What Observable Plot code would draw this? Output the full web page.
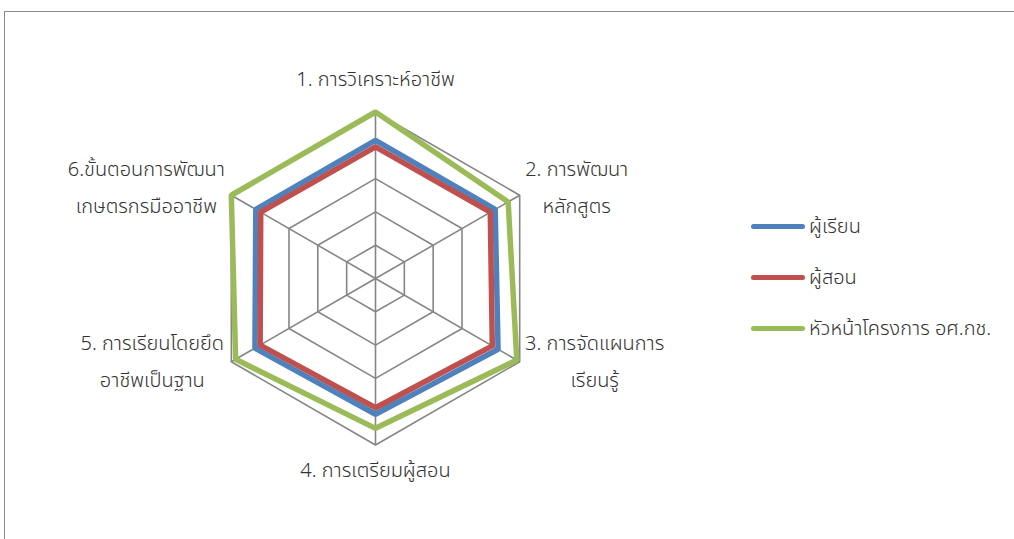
<!DOCTYPE html>
<html>
<head>
<meta charset="utf-8">
<script src="https://cdn.jsdelivr.net/npm/d3@7"></script>
<script src="https://cdn.jsdelivr.net/npm/@observablehq/plot@0.6"></script>
<style>
  html, body { margin: 0; padding: 0; background: #fff; }
  #wrap { position: relative; width: 1014px; height: 539px; overflow: hidden; background: #fff;
          font-family: "Noto Sans Thai", "Leelawadee UI", Tahoma, "DejaVu Sans", sans-serif; }
  #frame { position: absolute; left: 4px; top: 11px; width: 1200px; height: 700px;
           border: 1.5px solid #8a8a8a; box-sizing: border-box; }
  #chart { position: absolute; left: 0; top: 0; }
  #legend { position: absolute; left: 751px; top: 201px; color: #333; font-size: 20px; font-weight: 300; }
  .item { display: flex; align-items: center; height: 51px; }
  .swatch { width: 54px; height: 5px; border-radius: 3px; margin-right: 4px; }
</style>
</head>
<body>
<div id="wrap">
  <div id="frame"></div>
  <div id="chart"></div>
  <div id="legend"></div>
</div>
<script>
// ---- data ----
const categories = [
  "1. การวิเคราะห์อาชีพ",
  "2. การพัฒนา\nหลักสูตร",
  "3. การจัดแผนการ\nเรียนรู้",
  "4. การเตรียมผู้สอน",
  "5. การเรียนโดยยึด\nอาชีพเป็นฐาน",
  "6.ขั้นตอนการพัฒนา\nเกษตรกรมืออาชีพ"
];
const seriesNames = ["ผู้เรียน", "ผู้สอน", "หัวหน้าโครงการ อศ.กช."];
const learners = [4.15, 4.15, 4.25, 4.08, 4.18, 4.15];
const teachers = [3.95, 3.98, 4.05, 3.88, 4.00, 3.98];
const projectHeads = [5.00, 4.60, 4.90, 4.50, 4.85, 5.00];
const gridLevels = [1, 2, 3, 4, 5];
const axisMax = 5;

// ---- styles ----
const colors = ["#4F81BD", "#C0504D", "#9BBB59"];
const labelOffsets = [[0, -38], [57, -13], [75, -5], [0, 20], [-79, -5], [-85, -13]];

// ---- build tables ----
const n = categories.length;
const ang = i => (i * 2 * Math.PI) / n;
const px = (i, r) => r * Math.sin(ang(i));
const py = (i, r) => r * Math.cos(ang(i));

const gridPts = gridLevels.flatMap(level => categories.map((c, i) => ({level, x: px(i, level), y: py(i, level)})));
const spokes = categories.map((c, i) => ({x1: 0, y1: 0, x2: px(i, axisMax), y2: py(i, axisMax)}));
const seriesValues = [learners, teachers, projectHeads];
const seriesPts = seriesValues.flatMap((vals, s) => vals.map((v, i) => ({series: seriesNames[s], x: px(i, v), y: py(i, v)})));

const cx = 375, cy = 278, R = 166.5;

const labelMarks = categories.map((c, i) => Plot.text([{x: px(i, axisMax), y: py(i, axisMax), t: c}], {
  x: "x", y: "y", text: "t", textAnchor: "middle", lineAnchor: "middle",
  fontSize: 20, fontWeight: 300, lineHeight: 1.85, fill: "#333",
  dx: labelOffsets[i][0], dy: labelOffsets[i][1]
}));

const chart = Plot.plot({
  width: 1014, height: 539, margin: 0,
  style: {fontFamily: '"Noto Sans Thai", "Leelawadee UI", Tahoma, "DejaVu Sans", sans-serif', background: "transparent"},
  x: {domain: [-axisMax, axisMax], range: [cx - R, cx + R], axis: null},
  y: {domain: [-axisMax, axisMax], range: [cy + R, cy - R], axis: null},
  color: {domain: seriesNames, range: colors},
  marks: [
    Plot.line(gridPts, {x: "x", y: "y", z: "level", curve: "linear-closed", stroke: "#868686", strokeWidth: 1.6}),
    Plot.link(spokes, {x1: "x1", y1: "y1", x2: "x2", y2: "y2", stroke: "#868686", strokeWidth: 1.6}),
    Plot.line(seriesPts, {x: "x", y: "y", z: "series", stroke: "series", curve: "linear-closed",
      strokeWidth: 5.5, strokeLinejoin: "miter", strokeOpacity: 1}),
    ...labelMarks
  ]
});
document.getElementById("chart").appendChild(chart);

const legend = document.getElementById("legend");
seriesNames.forEach((name, s) => {
  const item = document.createElement("div");
  item.className = "item";
  const sw = document.createElement("div");
  sw.className = "swatch";
  sw.style.background = colors[s];
  const t = document.createElement("span");
  t.textContent = name;
  item.appendChild(sw);
  item.appendChild(t);
  legend.appendChild(item);
});
</script>
</body>
</html>
